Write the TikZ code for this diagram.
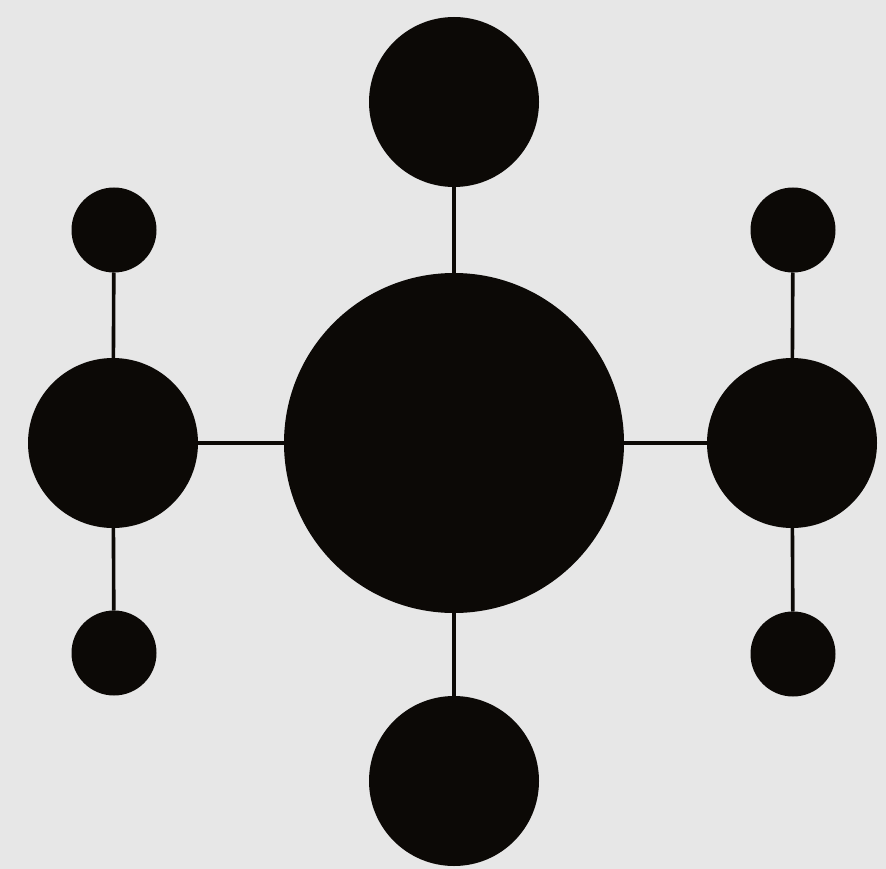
\documentclass[tikz,border=0pt]{standalone}
\usepackage{tikz}
\usetikzlibrary{positioning}

\definecolor{sfondo}{HTML}{E7E7E7}
\definecolor{nero}{HTML}{0C0906}

\tikzset{
    pallino/.style={circle, fill=nero, inner sep=0pt, outer sep=0pt},
    grande/.style={pallino, minimum size=340pt},
    medio/.style={pallino, minimum size=170pt},
    piccolo/.style={pallino, minimum size=85pt},
    asta/.style={draw=nero, line width=3.6pt}
}

\begin{document}
\begin{tikzpicture}[x=1pt,y=-1pt]

%====================================================
% Sfondo
%====================================================

\fill[sfondo] (0,0) rectangle (886,869);
\useasboundingbox (0,0) rectangle (886,869);

%====================================================
% Cerchio centrale e satelliti
%====================================================

\node[grande] (C) at (454,443) {};

\node[medio] (N) at (454,102) {};
\node[medio] (S) at (454,781) {};
\node[medio] (W) at (113,443) {};
\node[medio] (E) at (792,443) {};

\draw[asta] (C) -- (N);
\draw[asta] (C) -- (S);
\draw[asta] (C) -- (W);
\draw[asta] (C) -- (E);

%====================================================
% Pallini piccoli
%====================================================

\node[piccolo] (NW) at (114,230) {};
\node[piccolo] (SW) at (114,653) {};
\node[piccolo] (NE) at (793,230) {};
\node[piccolo] (SE) at (793,654) {};

\draw[asta] (W) -- (NW);
\draw[asta] (W) -- (SW);
\draw[asta] (E) -- (NE);
\draw[asta] (E) -- (SE);

\end{tikzpicture}
\end{document}
